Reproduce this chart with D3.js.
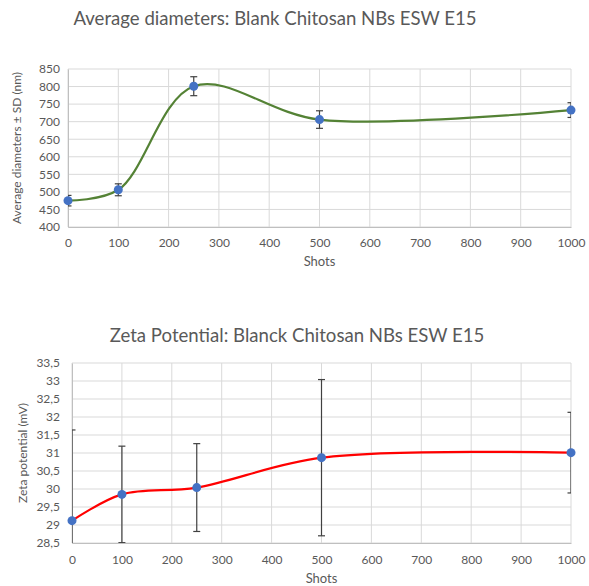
<!DOCTYPE html>
<html>
<head>
<meta charset="utf-8">
<script src="https://cdn.jsdelivr.net/npm/d3@7"></script>
<style>
  body { margin: 0; background: #fff; }
  svg text { font-family: Lato, "Open Sans", sans-serif; fill: #595959; }
  .grid line { stroke: #d9d9d9; stroke-width: 1; }
</style>
</head>
<body>
<div id="chart"></div>
<script>
const w = 589;
const h = 586;

// shots on the x axis, shared by both charts
const shots = [0, 100, 250, 500, 1000];
const xTicks = [0, 100, 200, 300, 400, 500, 600, 700, 800, 900, 1000];

// average diameters (nm) with SD
const diameters = [475, 506, 801, 706, 733];
const diametersSd = [15, 17, 27, 25, 21];
const diamTicks = [400, 450, 500, 550, 600, 650, 700, 750, 800, 850];

// zeta potential (mV) with SD
const zeta = [29.12, 29.85, 30.04, 30.87, 31.01];
const zetaSd = [2.52, 1.34, 1.22, 2.17, 1.12];
const zetaTicks = [28.5, 29, 29.5, 30, 30.5, 31, 31.5, 32, 32.5, 33, 33.5];

const svg = d3.select("#chart").append("svg")
  .attr("width", w).attr("height", h);

const commaFormat = (d) => String(d).replace(".", ",");

const drawChart = (opts) => {
  const x = d3.scaleLinear().domain([0, 1000]).range([opts.left, opts.right]);
  const y = d3.scaleLinear().domain([opts.ticks[0], opts.ticks[opts.ticks.length - 1]])
    .range([opts.bottom, opts.top]);

  const g = svg.append("g");

  g.append("text")
    .attr("x", opts.titleX).attr("y", opts.titleY)
    .attr("text-anchor", "middle")
    .style("font-size", "18.6px")
    .text(opts.title);

  // grid
  const grid = g.append("g").attr("class", "grid");
  grid.selectAll(".h").data(opts.ticks).enter().append("line")
    .attr("x1", opts.left).attr("x2", opts.right)
    .attr("y1", (d) => y(d)).attr("y2", (d) => y(d));
  grid.selectAll(".v").data(xTicks).enter().append("line")
    .attr("x1", (d) => x(d)).attr("x2", (d) => x(d))
    .attr("y1", opts.top).attr("y2", opts.bottom);

  // axes
  const yAxis = g.append("g")
    .attr("transform", `translate(${opts.left},0)`)
    .call(d3.axisLeft(y).tickValues(opts.ticks).tickSize(0).tickPadding(opts.yPad).tickFormat(opts.format));
  const xAxis = g.append("g")
    .attr("transform", `translate(0,${opts.bottom})`)
    .call(d3.axisBottom(x).tickValues(xTicks).tickSize(0).tickPadding(opts.xPad).tickFormat(d3.format("d")));
  [yAxis, xAxis].forEach((a) => {
    a.select(".domain").attr("stroke", "#bfbfbf");
    a.selectAll("text").style("font-size", "12px").attr("fill", "#595959");
  });

  g.append("text")
    .attr("x", (opts.left + opts.right) / 2).attr("y", opts.xLabelY)
    .attr("text-anchor", "middle")
    .style("font-size", "13px")
    .text("Shots");

  g.append("text")
    .attr("transform", `translate(${opts.yLabelX},${(opts.top + opts.bottom) / 2}) rotate(-90)`)
    .attr("text-anchor", "middle")
    .style("font-size", "12px")
    .text(opts.yLabel);

  const points = shots.map((s, i) => ({ s, v: opts.values[i], sd: opts.sd[i] }));

  // smoothed line
  const line = d3.line()
    .x((d) => x(d.s))
    .y((d) => y(d.v))
    .curve(d3.curveCatmullRom.alpha(0.5));
  g.append("path")
    .datum(points)
    .attr("d", line)
    .attr("fill", "none")
    .attr("stroke", opts.color)
    .attr("stroke-width", 2.2);

  // error bars, clipped to plot area
  const clipId = "clip" + opts.top;
  g.append("clipPath").attr("id", clipId).append("rect")
    .attr("x", opts.left).attr("y", opts.top - 10)
    .attr("width", opts.right - opts.left).attr("height", opts.bottom - opts.top + 10);
  const err = g.append("g").attr("clip-path", `url(#${clipId})`)
    .attr("stroke", "#404040").attr("stroke-width", 1.2);
  const bars = err.selectAll("g").data(points).enter().append("g");
  bars.append("line")
    .attr("x1", (d) => x(d.s)).attr("x2", (d) => x(d.s))
    .attr("y1", (d) => y(d.v + d.sd)).attr("y2", (d) => y(d.v - d.sd));
  bars.append("line")
    .attr("x1", (d) => x(d.s) - 3.5).attr("x2", (d) => x(d.s) + 3.5)
    .attr("y1", (d) => y(d.v + d.sd)).attr("y2", (d) => y(d.v + d.sd));
  bars.append("line")
    .attr("x1", (d) => x(d.s) - 3.5).attr("x2", (d) => x(d.s) + 3.5)
    .attr("y1", (d) => y(d.v - d.sd)).attr("y2", (d) => y(d.v - d.sd));

  // markers
  g.selectAll("circle").data(points).enter().append("circle")
    .attr("cx", (d) => x(d.s)).attr("cy", (d) => y(d.v))
    .attr("r", 4.5)
    .attr("fill", "#4472c4");
};

drawChart({
  title: "Average diameters: Blank Chitosan NBs ESW E15",
  titleX: 275, titleY: 25,
  left: 68, right: 571, top: 69, bottom: 227,
  ticks: diamTicks, format: (d) => d,
  values: diameters, sd: diametersSd,
  color: "#548235",
  yLabel: "Average diameters ± SD (nm)", yLabelX: 21,
  xLabelY: 266, yPad: 8, xPad: 11
});

drawChart({
  title: "Zeta Potential: Blanck Chitosan NBs ESW E15",
  titleX: 297, titleY: 342,
  left: 72, right: 571, top: 363, bottom: 543,
  ticks: zetaTicks, format: commaFormat,
  values: zeta, sd: zetaSd,
  color: "#ff0000",
  yLabel: "Zeta potential (mV)", yLabelX: 27,
  xLabelY: 583, yPad: 12, xPad: 12
});
</script>
</body>
</html>
